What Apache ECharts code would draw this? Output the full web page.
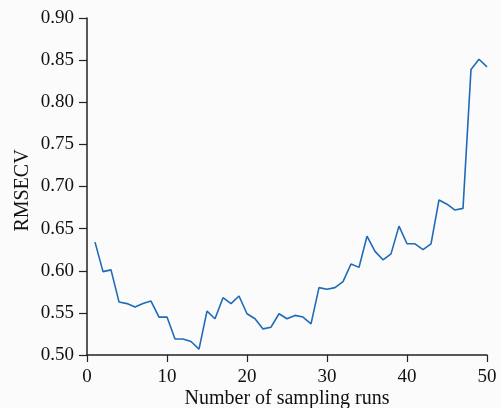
<!DOCTYPE html>
<html>
<head>
<meta charset="utf-8">
<script src="https://cdn.jsdelivr.net/npm/echarts@6/dist/echarts.min.js"></script>
<style>
  html, body { margin: 0; padding: 0; background: #fbfbfb; }
  #chart { width: 501px; height: 408px; }
</style>
</head>
<body>
<div id="chart"></div>
<script>
// RMSECV per sampling run
const runs = [1,2,3,4,5,6,7,8,9,10,11,12,13,14,15,16,17,18,19,20,21,22,23,24,25,26,27,28,29,30,31,32,33,34,35,36,37,38,39,40,41,42,43,44,45,46,47,48,49,50];
const rmsecv = [
  0.634, 0.599, 0.601, 0.563, 0.561, 0.557, 0.561, 0.564, 0.545, 0.545,
  0.519, 0.519, 0.516, 0.507, 0.552, 0.543, 0.568, 0.561, 0.570, 0.549,
  0.543, 0.531, 0.533, 0.549, 0.543, 0.547, 0.545, 0.537, 0.580, 0.578,
  0.580, 0.587, 0.608, 0.604, 0.641, 0.623, 0.613, 0.620, 0.653, 0.632,
  0.632, 0.625, 0.632, 0.684, 0.679, 0.672, 0.674, 0.839, 0.851, 0.842
];
const xTicks = [0, 10, 20, 30, 40, 50];
const yTicks = [0.50, 0.55, 0.60, 0.65, 0.70, 0.75, 0.80, 0.85, 0.90];

const font = 'Liberation Serif';
const axisColor = '#222';
const textColor = '#111';

const chart = echarts.init(document.getElementById('chart'), null, { renderer: 'canvas' });
chart.setOption({
  backgroundColor: '#fbfbfb',
  animation: false,
  grid: { left: 87, right: 14, top: 18, bottom: 53, containLabel: false, outerBoundsMode: 'none' },
  xAxis: {
    type: 'value',
    min: xTicks[0],
    max: xTicks[xTicks.length - 1],
    interval: 10,
    name: 'Number of sampling runs',
    nameLocation: 'middle',
    nameGap: 34,
    nameMoveOverlap: false,
    nameTextStyle: { fontFamily: font, fontSize: 20, color: textColor, verticalAlign: 'top' },
    axisLine: { lineStyle: { color: axisColor, width: 1.5 } },
    axisTick: { length: 7, lineStyle: { color: axisColor, width: 1.2 } },
    axisLabel: { fontFamily: font, fontSize: 19, color: textColor, margin: 13 },
    splitLine: { show: false }
  },
  yAxis: {
    type: 'value',
    min: yTicks[0],
    max: yTicks[yTicks.length - 1],
    interval: 0.05,
    name: 'RMSECV',
    nameLocation: 'middle',
    nameGap: 54,
    nameMoveOverlap: false,
    nameTextStyle: { fontFamily: font, fontSize: 20, color: textColor, padding: [0, 8, 0, 0] },
    axisLine: { show: true, lineStyle: { color: axisColor, width: 1.5 } },
    axisTick: { show: true, length: 8, lineStyle: { color: axisColor, width: 1.2 } },
    axisLabel: {
      fontFamily: font, fontSize: 19, color: textColor, margin: 13,
      formatter: v => v.toFixed(2)
    },
    splitLine: { show: false }
  },
  series: [{
    type: 'line',
    data: runs.map((r, i) => [r, rmsecv[i]]),
    showSymbol: false,
    lineStyle: { color: '#1f6bb8', width: 1.6 },
    itemStyle: { color: '#1f6bb8' }
  }]
});
</script>
</body>
</html>
